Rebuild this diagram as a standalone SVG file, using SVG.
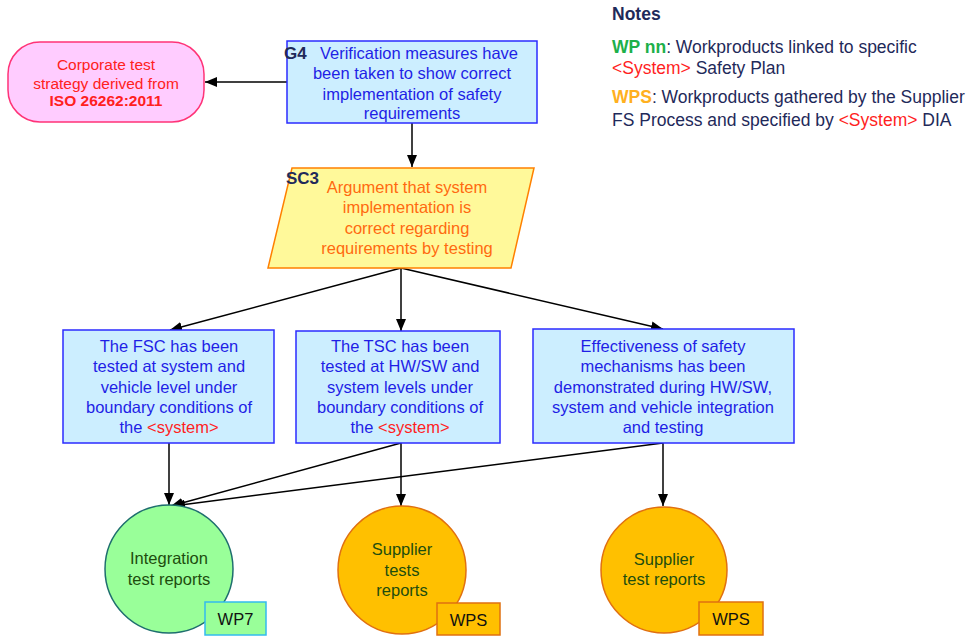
<svg xmlns="http://www.w3.org/2000/svg" width="971" height="636" viewBox="0 0 971 636">
<defs>
<marker id="ah" viewBox="0 0 12 10" refX="12" refY="5" markerWidth="12" markerHeight="10" markerUnits="userSpaceOnUse" orient="auto">
<path d="M0,0 L12,5 L0,10 Z" fill="#000"/>
</marker>
</defs>
<style>
text{font-family:"Liberation Sans",Arial,sans-serif;}
.box{fill:#CCEEFF;stroke:#2B2BFF;stroke-width:1.5;}
.bt{font-size:16.5px;fill:#1F1FE6;text-anchor:middle;}
.red{fill:#FF1F1F;}
.lbl{font-size:17px;font-weight:bold;fill:#1F2A5A;}
.ct{font-size:16.5px;fill:#1E4D0E;text-anchor:middle;}
.conn{stroke:#000;stroke-width:1.5;fill:none;marker-end:url(#ah);}
.nt{font-size:17.5px;fill:#1F2A5A;}
.wps{fill:#FFC000;stroke:#E07010;stroke-width:1.5;}
.wpt{font-size:16.5px;fill:#111;text-anchor:middle;}
.cp{font-size:15.5px;fill:#FF2020;text-anchor:middle;}
</style>
<rect width="971" height="636" fill="#fff"/>

<g id="connectors">
<line class="conn" x1="287" y1="82" x2="205" y2="82"/>
<line class="conn" x1="412" y1="123" x2="412" y2="167"/>
<line class="conn" x1="401" y1="268" x2="170" y2="330"/>
<line class="conn" x1="401" y1="268" x2="401" y2="331"/>
<line class="conn" x1="401" y1="268" x2="663" y2="329"/>
<line class="conn" x1="169" y1="443" x2="169" y2="505"/>
<line class="conn" x1="401" y1="443" x2="171" y2="506"/>
<line class="conn" x1="401" y1="443" x2="401" y2="506"/>
<line class="conn" x1="663" y1="443" x2="173" y2="506"/>
<line class="conn" x1="663" y1="443" x2="663" y2="506"/>
</g>

<g id="corporate">
<rect x="8" y="42" width="196" height="80" rx="32" fill="#FFCCFF" stroke="#FF3377" stroke-width="1.5"/>
<text class="cp" x="106" y="70">Corporate test</text>
<text class="cp" x="106" y="89">strategy derived from</text>
<text class="cp" x="106" y="106" font-weight="bold">ISO 26262:2011</text>
</g>

<g id="G4">
<rect class="box" x="287" y="41" width="250" height="82"/>
<text class="lbl" x="284" y="59">G4</text>
<text class="bt" x="419" y="59">Verification measures have</text>
<text class="bt" x="412" y="79">been taken to show correct</text>
<text class="bt" x="412" y="100">implementation of safety</text>
<text class="bt" x="412" y="119">requirements</text>
</g>

<g id="SC3">
<polygon points="292,168 534,168 511,268 268,268" fill="#FFF99A" stroke="#FF8000" stroke-width="1.5"/>
<text class="lbl" x="286" y="184">SC3</text>
<text x="407" y="193" font-size="16.5" fill="#FF6A10" text-anchor="middle">Argument that system</text>
<text x="407" y="213" font-size="16.5" fill="#FF6A10" text-anchor="middle">implementation is</text>
<text x="407" y="234" font-size="16.5" fill="#FF6A10" text-anchor="middle">correct regarding</text>
<text x="407" y="254" font-size="16.5" fill="#FF6A10" text-anchor="middle">requirements by testing</text>
</g>

<g id="FSC">
<rect class="box" x="63" y="330" width="211" height="113"/>
<text class="bt" x="169" y="352">The FSC has been</text>
<text class="bt" x="169" y="372">tested at system and</text>
<text class="bt" x="169" y="393">vehicle level under</text>
<text class="bt" x="169" y="413">boundary conditions of</text>
<text class="bt" x="169" y="433">the <tspan class="red">&lt;system&gt;</tspan></text>
</g>

<g id="TSC">
<rect class="box" x="296" y="331" width="204" height="112"/>
<text class="bt" x="400" y="352">The TSC has been</text>
<text class="bt" x="400" y="372">tested at HW/SW and</text>
<text class="bt" x="400" y="393">system levels under</text>
<text class="bt" x="400" y="413">boundary conditions of</text>
<text class="bt" x="400" y="433">the <tspan class="red">&lt;system&gt;</tspan></text>
</g>

<g id="Effectiveness">
<rect class="box" x="533" y="329" width="261" height="114"/>
<text class="bt" x="663" y="352">Effectiveness of safety</text>
<text class="bt" x="663" y="372">mechanisms has been</text>
<text class="bt" x="663" y="393">demonstrated during HW/SW,</text>
<text class="bt" x="663" y="413">system and vehicle integration</text>
<text class="bt" x="663" y="433">and testing</text>
</g>

<g id="Integration">
<circle cx="169" cy="569" r="64" fill="#99FF99" stroke="#1E6E6E" stroke-width="1.5"/>
<text class="ct" x="169" y="564">Integration</text>
<text class="ct" x="169" y="585">test reports</text>
<rect x="205" y="602" width="61" height="33" fill="#99FF99" stroke="#33BBEE" stroke-width="1.5"/>
<text class="wpt" x="235.5" y="625">WP7</text>
</g>

<g id="SupplierTests">
<circle cx="402" cy="570" r="64" fill="#FFC000" stroke="#E07010" stroke-width="1.5"/>
<text class="ct" x="402" y="555">Supplier</text>
<text class="ct" x="402" y="576">tests</text>
<text class="ct" x="402" y="596">reports</text>
<rect class="wps" x="437" y="603" width="63" height="32"/>
<text class="wpt" x="468.5" y="626">WPS</text>
</g>

<g id="SupplierTest">
<circle cx="664" cy="570" r="63" fill="#FFC000" stroke="#E07010" stroke-width="1.5"/>
<text class="ct" x="664" y="565">Supplier</text>
<text class="ct" x="664" y="585">test reports</text>
<rect class="wps" x="699" y="602" width="64" height="33"/>
<text class="wpt" x="731" y="625">WPS</text>
</g>

<g id="notes">
<text class="nt" x="612" y="20" font-weight="bold">Notes</text>
<text class="nt" x="612" y="53"><tspan font-weight="bold" fill="#1DB04A">WP nn</tspan>: Workproducts linked to specific</text>
<text class="nt" x="612" y="74"><tspan fill="#FF1F1F">&lt;System&gt;</tspan>  Safety Plan</text>
<text class="nt" x="612" y="103"><tspan font-weight="bold" fill="#FFB020">WPS</tspan>: Workproducts gathered by the Supplier</text>
<text class="nt" x="612" y="126">FS Process and specified by <tspan fill="#FF1F1F">&lt;System&gt;</tspan> DIA</text>
</g>
</svg>
